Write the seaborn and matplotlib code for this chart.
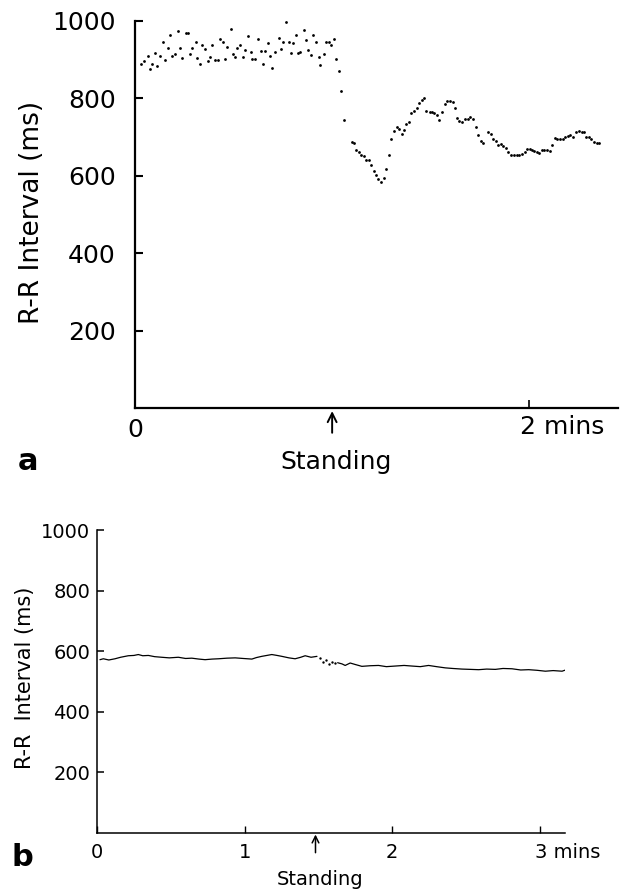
import matplotlib
matplotlib.use("Agg")
import matplotlib.pyplot as plt
import seaborn as sns
import pandas as pd

# ---------------- data: panel a (dots, R-R interval in ms vs time in min) ----------------
a_time = [0.030, 0.046, 0.068, 0.078, 0.088, 0.103, 0.113, 0.127, 0.142, 0.150,
          0.165, 0.177, 0.190, 0.204, 0.219, 0.229, 0.239, 0.258, 0.270, 0.280,
          0.290, 0.311, 0.317, 0.329, 0.341, 0.356, 0.368, 0.380, 0.391, 0.407,
          0.422, 0.430, 0.446, 0.457, 0.469, 0.486, 0.498, 0.508, 0.518, 0.533,
          0.548, 0.558, 0.571, 0.586, 0.596, 0.608, 0.626, 0.638, 0.648, 0.660,
          0.675, 0.684, 0.697, 0.712, 0.728, 0.739, 0.753, 0.765, 0.780, 0.789,
          0.802, 0.815, 0.827, 0.839, 0.856, 0.866, 0.880, 0.891, 0.903, 0.920,
          0.932, 0.940, 0.957, 0.971, 0.982, 0.994, 1.008, 1.021, 1.035, 1.046,
          1.058,
          1.100, 1.109, 1.121, 1.134, 1.148, 1.161, 1.173, 1.187, 1.198, 1.210,
          1.224, 1.235, 1.247, 1.261, 1.274, 1.288, 1.300, 1.313, 1.327, 1.340,
          1.352, 1.365, 1.374, 1.389, 1.399, 1.416, 1.428, 1.440, 1.455, 1.468,
          1.478, 1.494, 1.505, 1.517, 1.531, 1.543, 1.556, 1.570, 1.583, 1.597,
          1.612, 1.622, 1.634, 1.646, 1.659, 1.674, 1.688, 1.700, 1.713, 1.728,
          1.742, 1.754, 1.765, 1.791, 1.806, 1.816, 1.830, 1.843, 1.857, 1.867,
          1.880, 1.894, 1.909, 1.922, 1.936, 1.949, 1.963, 1.978, 1.990, 2.002,
          2.014, 2.025, 2.037, 2.049, 2.063, 2.076, 2.090, 2.103, 2.116, 2.130,
          2.143, 2.157, 2.171, 2.182, 2.196, 2.206, 2.224, 2.238, 2.252, 2.265,
          2.278, 2.290, 2.304, 2.314, 2.326, 2.341, 2.354]
a_rr = [888, 897, 910, 877, 890, 917, 885, 909, 945, 900,
        931, 964, 909, 916, 973, 930, 905, 970, 970, 914,
        929, 945, 905, 888, 937, 928, 896, 906, 937, 898,
        898, 954, 947, 901, 933, 979, 916, 908, 931, 939,
        908, 924, 960, 921, 903, 903, 954, 923, 889, 923,
        942, 909, 878, 920, 956, 928, 947, 997, 945, 918,
        944, 963, 918, 921, 978, 951, 924, 911, 964, 945,
        907, 886, 916, 945, 945, 937, 954, 903, 871, 819,
        745,
        688, 684, 667, 661, 654, 650, 642, 640, 628, 612,
        602, 593, 584, 595, 618, 655, 694, 717, 726, 720,
        708, 719, 735, 740, 761, 767, 776, 787, 796, 800,
        767, 765, 764, 762, 757, 744, 764, 786, 792, 792,
        791, 776, 749, 741, 740, 746, 748, 753, 748, 727,
        705, 690, 685, 713, 708, 694, 690, 680, 681, 676,
        671, 661, 654, 654, 653, 654, 657, 661, 668, 669,
        666, 663, 661, 659, 666, 666, 666, 665, 679, 697,
        695, 696, 696, 699, 702, 705, 700, 712, 716, 714,
        714, 701, 701, 696, 687, 685, 685]

# ---------------- data: panel b (continuous trace) ----------------
b_time_pre = [0.02, 0.043, 0.08, 0.122, 0.16, 0.212, 0.25, 0.280, 0.31, 0.348,
              0.39, 0.438, 0.49, 0.551, 0.60, 0.642, 0.69, 0.732, 0.78, 0.823,
              0.88, 0.936, 0.99, 1.049, 1.08, 1.116, 1.15, 1.184, 1.22, 1.252,
              1.30, 1.342, 1.38, 1.410, 1.45, 1.49]
b_rr_pre = [572, 575, 571, 575, 580, 585, 586, 589, 585, 586,
            582, 580, 578, 580, 576, 577, 574, 572, 574, 575,
            577, 578, 576, 574, 579, 583, 586, 589, 586, 583,
            578, 575, 580, 585, 580, 583]
b_dot_time = [1.51, 1.53, 1.55, 1.57, 1.59, 1.61]
b_dot_rr = [578, 566, 572, 558, 565, 560]
b_time_post = [1.63, 1.66, 1.681, 1.715, 1.75, 1.794, 1.85, 1.907, 1.96, 2.020,
               2.08, 2.133, 2.19, 2.246, 2.30, 2.359, 2.41, 2.472, 2.53, 2.585,
               2.64, 2.698, 2.75, 2.811, 2.87, 2.924, 2.98, 3.037, 3.09, 3.150, 3.18]
b_rr_post = [562, 558, 553, 561, 556, 550, 552, 553, 549, 551,
             553, 551, 549, 553, 549, 545, 543, 541, 540, 539,
             541, 540, 543, 542, 538, 539, 537, 534, 536, 534, 539]

yticks = [200, 400, 600, 800, 1000]
ytick_labels = ["200", "400", "600", "800", "1000"]

sns.set_theme(style="white")
plt.rcParams["font.family"] = ["DejaVu Sans"]
plt.rcParams["text.color"] = "black"
plt.rcParams["xtick.color"] = "black"
plt.rcParams["ytick.color"] = "black"

fig = plt.figure(figsize=(6.2, 8.9), dpi=100)

# ---------------- panel a ----------------
axa = fig.add_axes([135 / 620, 1 - 408 / 890, 483 / 620, 387 / 890])
dfa = pd.DataFrame({"t": a_time, "rr": a_rr})
sns.scatterplot(data=dfa, x="t", y="rr", ax=axa, s=4, color="black",
                linewidth=0, legend=False)
axa.set_xlim(0, 2.45)
axa.set_ylim(0, 1000)
axa.set_xlabel("")
axa.set_ylabel("")
for s in ["top", "right"]:
    axa.spines[s].set_visible(False)
for s in ["left", "bottom"]:
    axa.spines[s].set_linewidth(1.6)
    axa.spines[s].set_color("black")
axa.set_yticks(yticks)
axa.set_yticklabels(ytick_labels)
axa.set_xticks([0, 2])
axa.set_xticklabels(["0", ""])
axa.tick_params(axis="y", direction="in", length=6, width=1.5, pad=14,
                labelsize=18, colors="black", left=True)
axa.tick_params(axis="x", direction="in", length=6, width=1.2, pad=7,
                labelsize=18, colors="black", bottom=True)
axa.text(1.955, -0.019, "2 mins", transform=axa.get_xaxis_transform(),
         ha="left", va="top", fontsize=18, color="black")
axa.annotate("", xy=(1.0, -0.008), xycoords=axa.get_xaxis_transform(),
             xytext=(1.0, -0.064), textcoords=axa.get_xaxis_transform(),
             arrowprops=dict(arrowstyle="->", color="black", lw=1.4,
                             shrinkA=0, shrinkB=0, mutation_scale=16))
axa.text(1.02, -0.14, "Standing", transform=axa.get_xaxis_transform(),
         ha="center", va="center", fontsize=18, color="black")
fig.text(32 / 620, 1 - 212 / 890, "R-R Interval (ms)", rotation=90,
         ha="center", va="center", fontsize=19, color="black")
fig.text(28 / 620, 1 - 462 / 890, "a", ha="center", va="center",
         fontsize=22, fontweight="bold", color="black")

# ---------------- panel b ----------------
axb = fig.add_axes([97 / 620, 1 - 833 / 890, 468 / 620, 303 / 890])
dfb1 = pd.DataFrame({"t": b_time_pre, "rr": b_rr_pre})
dfb2 = pd.DataFrame({"t": b_time_post, "rr": b_rr_post})
dfbd = pd.DataFrame({"t": b_dot_time, "rr": b_dot_rr})
sns.lineplot(data=dfb1, x="t", y="rr", ax=axb, color="black", lw=0.9,
             estimator=None, sort=False)
sns.lineplot(data=dfb2, x="t", y="rr", ax=axb, color="black", lw=0.9,
             estimator=None, sort=False)
sns.scatterplot(data=dfbd, x="t", y="rr", ax=axb, s=3, color="black",
                linewidth=0, legend=False)
axb.set_xlim(0, 3.17)
axb.set_ylim(0, 1000)
axb.set_xlabel("")
axb.set_ylabel("")
for s in ["top", "right"]:
    axb.spines[s].set_visible(False)
for s in ["left", "bottom"]:
    axb.spines[s].set_linewidth(1.1)
    axb.spines[s].set_color("black")
axb.set_yticks(yticks)
axb.set_yticklabels(ytick_labels)
axb.set_xticks([0, 1, 2, 3])
axb.set_xticklabels(["0", "1", "2", ""])
axb.tick_params(axis="y", direction="in", length=5, width=1.1, pad=5,
                labelsize=14, colors="black", left=True)
axb.tick_params(axis="x", direction="in", length=5, width=1.0, pad=7,
                labelsize=14, colors="black", bottom=True)
axb.text(2.965, -0.033, "3 mins", transform=axb.get_xaxis_transform(),
         ha="left", va="top", fontsize=14, color="black")
axb.annotate("", xy=(1.48, -0.005), xycoords=axb.get_xaxis_transform(),
             xytext=(1.48, -0.065), textcoords=axb.get_xaxis_transform(),
             arrowprops=dict(arrowstyle="->", color="black", lw=1.1,
                             shrinkA=0, shrinkB=0, mutation_scale=12))
axb.text(1.51, -0.155, "Standing", transform=axb.get_xaxis_transform(),
         ha="center", va="center", fontsize=14, color="black")
fig.text(25 / 620, 1 - 678 / 890, "R-R  Interval (ms)", rotation=90,
         ha="center", va="center", fontsize=15, color="black")
fig.text(22 / 620, 1 - 857 / 890, "b", ha="center", va="center",
         fontsize=22, fontweight="bold", color="black")

fig.savefig("out.png", dpi=100, facecolor="white")
